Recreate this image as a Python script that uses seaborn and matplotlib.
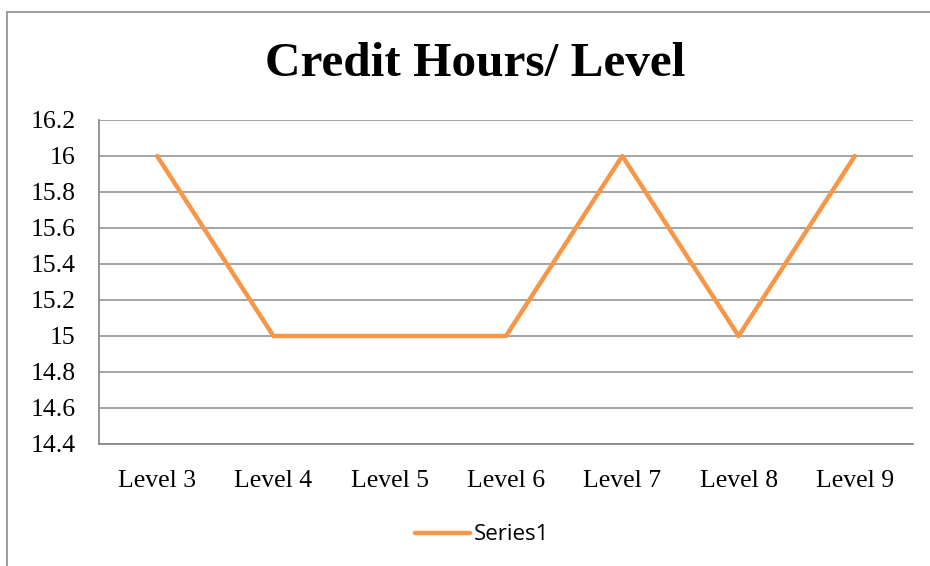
import pandas as pd
import seaborn as sns
import matplotlib.pyplot as plt
from matplotlib.patches import Rectangle

# chart data
levels = ['Level 3', 'Level 4', 'Level 5', 'Level 6', 'Level 7', 'Level 8', 'Level 9']
credit_hours = [16, 15, 15, 15, 16, 15, 16]
y_ticks = [14.4, 14.6, 14.8, 15, 15.2, 15.4, 15.6, 15.8, 16, 16.2]

df = pd.DataFrame({'Level': levels, 'Hours': credit_hours})

sns.set_style('white')
plt.rcParams['font.family'] = ['Liberation Serif', 'DejaVu Serif']
plt.rcParams['text.color'] = 'black'

fig = plt.figure(figsize=(9.3, 5.66), dpi=100)
ax = fig.add_axes([99 / 930, 1 - 444 / 566, 814 / 930, 324 / 566])

sns.lineplot(data=df, x='Level', y='Hours', ax=ax, color='#F79646',
             linewidth=3.2, label='Series1', legend=False)

ax.set_xlim(-0.5, 6.5)
ax.set_ylim(14.4, 16.2)
ax.set_yticks(y_ticks)
ax.set_yticklabels([f'{v:g}' for v in y_ticks])
ax.yaxis.grid(True, color='#8c8c8c', linewidth=1.1)
ax.set_axisbelow(True)
ax.tick_params(axis='both', length=0, labelsize=18.5, colors='black')
ax.tick_params(axis='x', pad=19)
ax.tick_params(axis='y', pad=17)
ax.set_xlabel('')
ax.set_ylabel('')

for side in ['top', 'right']:
    ax.spines[side].set_visible(False)
for side in ['left', 'bottom']:
    ax.spines[side].set_color('#8c8c8c')
    ax.spines[side].set_linewidth(1.3)

fig.text(475 / 930, 1 - 64 / 566, 'Credit Hours/ Level', ha='center', va='center',
         fontsize=35.5, fontweight='bold', color='black')

handles, labels = ax.get_legend_handles_labels()
leg = fig.legend(handles, labels, loc='center', bbox_to_anchor=(482 / 930, 1 - 535 / 566),
                 frameon=False, handlelength=2.5, handletextpad=0.15,
                 prop={'family': 'Open Sans', 'size': 16})
for t in leg.get_texts():
    t.set_color('black')

# outer chart border (runs off the right and bottom edges)
fig.patches.append(Rectangle((7 / 930, -0.2), 1.2, (566 - 12) / 566 + 0.2,
                             transform=fig.transFigure, fill=False,
                             edgecolor='#8c8c8c', linewidth=1.2))

fig.savefig('out.png', dpi=100)
